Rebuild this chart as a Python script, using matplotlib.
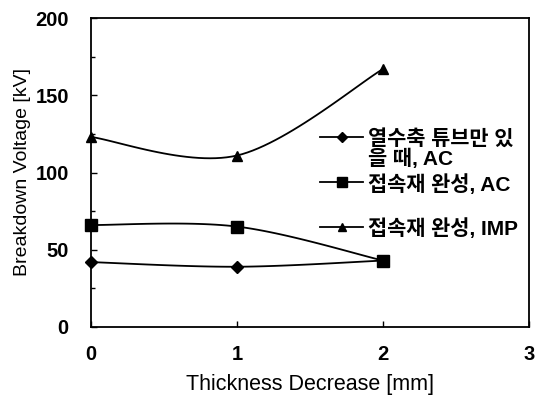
import numpy as np
import matplotlib
matplotlib.use('Agg')
from matplotlib import pyplot as plt
from matplotlib.lines import Line2D
from matplotlib.ticker import MultipleLocator

plt.rcParams['font.family'] = ['Liberation Sans', 'Noto Sans CJK KR']

# data
thickness = [0, 1, 2]
tube_only_ac = [42, 39, 43]
joint_ac = [66, 65, 43]
joint_imp = [123, 111, 167]
labels = ['열수축 튜브만 있\n을 때, AC', '접속재 완성, AC', '접속재 완성, IMP']
markers = ['D', 's', '^']
msizes = [6, 9, 7]


# excel style smoothed line (bezier through the points)
def smooth(x, y, n=30):
	p = np.column_stack([x, y]).astype(float)
	pp = np.vstack([p[0], p, p[-1]])
	out = []
	t = np.linspace(0, 1, n)[:, None]
	for i in range(len(p) - 1):
		a = pp[i + 1]
		d = pp[i + 2]
		b = a + (pp[i + 2] - pp[i]) / 6
		c = d - (pp[i + 3] - pp[i + 1]) / 6
		seg = (1-t)**3*a + 3*(1-t)**2*t*b + 3*(1-t)*t**2*c + t**3*d
		out.append(seg)
	s = np.vstack(out)
	return s[:, 0], s[:, 1]


fig = plt.figure(figsize=(5.36, 3.99), dpi=100)
ax = fig.add_axes([91/536, 1-327/399, 438/536, 309/399])

for ys, m, ms in zip([tube_only_ac, joint_ac, joint_imp], markers, msizes):
	sx, sy = smooth(thickness, ys)
	ax.plot(sx, sy, color='black', lw=1.3, clip_on=False)
	ax.plot(thickness, ys, ls='none', marker=m, ms=ms, color='black', clip_on=False)

ax.set_xlim(0, 3)
ax.set_ylim(0, 200)
ax.xaxis.set_major_locator(MultipleLocator(1))
ax.yaxis.set_major_locator(MultipleLocator(50))
ax.yaxis.set_minor_locator(MultipleLocator(25))
ax.tick_params(direction='in', length=4, width=1, labelsize=14.5)
ax.tick_params(axis='y', pad=16)
ax.tick_params(axis='x', pad=13)
ax.tick_params(which='minor', direction='in', length=3, width=1)
for lab in ax.get_xticklabels() + ax.get_yticklabels():
	lab.set_fontweight('bold')
for s in ax.spines.values():
	s.set_linewidth(1.3)

ax.set_xlabel('Thickness Decrease [mm]', fontsize=15.5, labelpad=7)
ax.set_ylabel('Breakdown Voltage [kV]', fontsize=14, labelpad=3)

# legend, drawn by hand so the first marker sits on the first text line
leg_y = [0.615, 0.469, 0.324]
for lab, m, ms, yy in zip(labels, markers, msizes, leg_y):
	ax.add_line(Line2D([0.523, 0.621], [yy, yy], transform=ax.transAxes,
		color='black', lw=1.3, clip_on=False))
	ax.add_line(Line2D([0.572], [yy], transform=ax.transAxes, marker=m,
		ms=ms * 0.8, color='black', clip_on=False))
	ax.text(0.632, yy + 0.027, lab, transform=ax.transAxes, fontsize=15,
		fontweight='bold', va='top', ha='left', linespacing=1.0)

fig.savefig('out.png', dpi=100)
